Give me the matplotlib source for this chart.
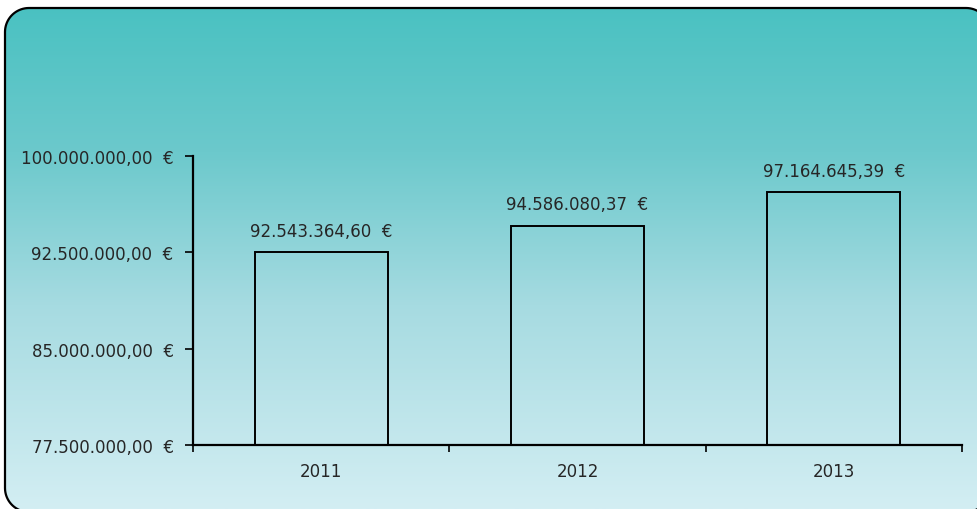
import numpy as np
import matplotlib.pyplot as plt
from matplotlib.patches import Polygon
from matplotlib.colors import LinearSegmentedColormap
from matplotlib.ticker import FuncFormatter

# data
years = ['2011', '2012', '2013']
values = [92543364.60, 94586080.37, 97164645.39]
y_ticks = [77500000, 85000000, 92500000, 100000000]


def euro(v, pos=None):
    s = f"{v:,.2f}".replace(',', 'X').replace('.', ',').replace('X', '.')
    return s + '  €'


def rounded_rect(x0, y0, x1, y1, r, n=20):
    pts = []
    corners = [(x1 - r, y1 - r, 0), (x0 + r, y1 - r, 90),
               (x0 + r, y0 + r, 180), (x1 - r, y0 + r, 270)]
    for cx, cy, a0 in corners:
        t = np.radians(np.linspace(a0, a0 + 90, n))
        pts += list(zip(cx + r * np.cos(t), cy + r * np.sin(t)))
    return np.array(pts)


W, H = 977, 510
fig = plt.figure(figsize=(W / 100, H / 100), dpi=100)

# rounded background with vertical gradient (pixel coords, origin bottom-left)
bg = fig.add_axes([0, 0, 1, 1], zorder=0)
bg.set_xlim(0, W)
bg.set_ylim(0, H)
bg.axis('off')
cmap = LinearSegmentedColormap.from_list(
    'bg', [(0, '#48c1c1'), (0.3, '#6cc9cc'), (0.6, '#a6dbe1'), (1, '#d3eef3')])
grad = np.linspace(0, 1, 256).reshape(-1, 1)
img = bg.imshow(grad, cmap=cmap, aspect='auto', extent=[0, W, 0, H],
                origin='upper', zorder=0)
box = Polygon(rounded_rect(5, -3, 990, 501, 24), closed=True,
              facecolor='none', edgecolor='black', linewidth=1.6, zorder=2)
bg.add_patch(box)
img.set_clip_path(box)

ax = fig.add_axes([193 / W, 1 - 446 / H, (962 - 193) / W, (446 - 157) / H], zorder=1)
ax.patch.set_visible(False)

x = np.arange(len(years))
ax.bar(x, values, width=0.52, bottom=0, facecolor='none', edgecolor='black', linewidth=1.4)
for xi, v in zip(x, values):
    ax.text(xi, v + 0.95e6, euro(v), ha='center', va='bottom', fontsize=12, color='#262626')

ax.set_xlim(-0.5, 2.5)
ax.set_ylim(77500000, 100000000)
ax.set_yticks(y_ticks)
ax.yaxis.set_major_formatter(FuncFormatter(euro))
ax.set_xticks(x)
ax.set_xticklabels(years)
ax.set_xticks([-0.5, 0.5, 1.5, 2.5], minor=True)
ax.tick_params(axis='x', which='major', length=0, pad=12, labelsize=12, labelcolor='#262626')
ax.tick_params(axis='x', which='minor', length=5, width=1.2, direction='out')
ax.tick_params(axis='y', length=6, width=1.2, pad=8, labelsize=12, labelcolor='#262626')

for s in ['top', 'right']:
    ax.spines[s].set_visible(False)
ax.spines['left'].set_linewidth(1.6)
ax.spines['bottom'].set_linewidth(1.6)

fig.savefig('out.png', dpi=100)
